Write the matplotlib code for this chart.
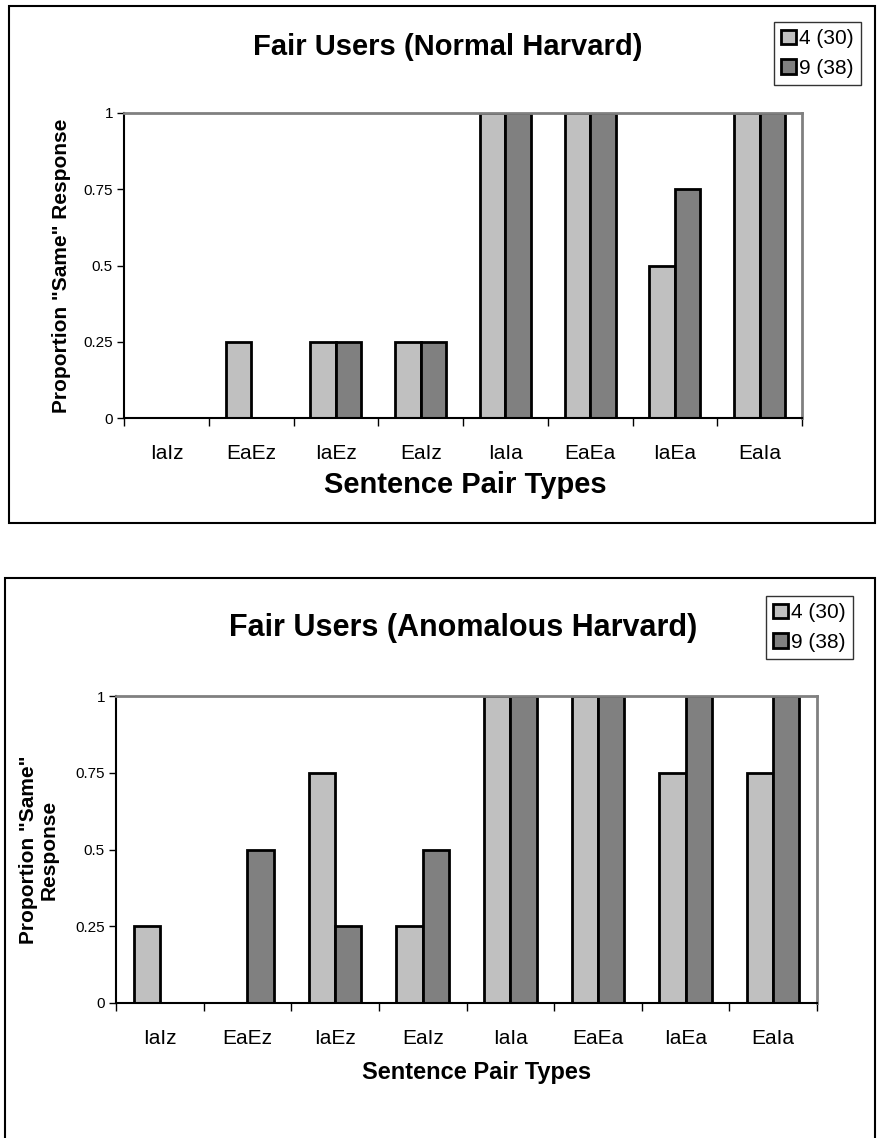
import numpy as np
import matplotlib
matplotlib.use("Agg")
import matplotlib.pyplot as plt
from matplotlib.patches import Rectangle

plt.rcParams['font.family'] = ['Liberation Sans', 'DejaVu Sans']

pair_types = ["IaIz", "EaEz", "IaEz", "EaIz", "IaIa", "EaEa", "IaEa", "EaIa"]
series_names = ["4 (30)", "9 (38)"]
yticks = [0, 0.25, 0.5, 0.75, 1]
ytick_labels = ["0", "0.25", "0.5", "0.75", "1"]

normal_4 = [0, 0.25, 0.25, 0.25, 1, 1, 0.5, 1]
normal_9 = [0, 0, 0.25, 0.25, 1, 1, 0.75, 1]
anomalous_4 = [0.25, 0, 0.75, 0.25, 1, 1, 0.75, 0.75]
anomalous_9 = [0, 0.5, 0.25, 0.5, 1, 1, 1, 1]

LIGHT = "#c0c0c0"
DARK = "#808080"

W, H = 877, 1138
fig = plt.figure(figsize=(W / 100, H / 100), dpi=100)


def px_rect(l, t, r, b):
    # pixel box -> figure fraction [left, bottom, width, height]
    return [l / W, 1 - b / H, (r - l) / W, (b - t) / H]


def draw_panel(box, vals4, vals9, title, title_xy, title_size,
               xlabel, xlabel_xy, xlabel_size, ylabel, ylabel_x, ylabel_size,
               legend_box):
    ax = fig.add_axes(px_rect(*box))
    x = np.arange(len(pair_types))
    w = 0.3
    b1 = ax.bar(x - w / 2, vals4, w, color=LIGHT, edgecolor="black", linewidth=2)
    b2 = ax.bar(x + w / 2, vals9, w, color=DARK, edgecolor="black", linewidth=2)
    ax.set_xlim(-0.5, len(pair_types) - 0.5)
    ax.set_ylim(0, 1)

    ax.set_xticks(np.arange(len(pair_types) + 1) - 0.5)
    ax.set_xticklabels([])
    ax.set_xticks(x, minor=True)
    ax.set_xticklabels(pair_types, minor=True, fontsize=15)
    ax.tick_params(axis="x", which="major", direction="out", length=6, width=1)
    ax.tick_params(axis="x", which="minor", length=0, pad=19)
    ax.set_yticks(yticks)
    ax.set_yticklabels(ytick_labels, fontsize=11)
    ax.tick_params(axis="y", direction="out", length=5, width=1, pad=3)

    for s in ("top", "right"):
        ax.spines[s].set_color("#808080")
        ax.spines[s].set_linewidth(2)
    for s in ("left", "bottom"):
        ax.spines[s].set_color("black")
        ax.spines[s].set_linewidth(1.5)

    fig.text(title_xy[0] / W, 1 - title_xy[1] / H, title, ha="center",
             va="center", fontsize=title_size, fontweight="bold")
    fig.text(xlabel_xy[0] / W, 1 - xlabel_xy[1] / H, xlabel, ha="center",
             va="center", fontsize=xlabel_size, fontweight="bold")
    yc = (box[1] + box[3]) / 2
    fig.text(ylabel_x / W, 1 - yc / H, ylabel, ha="center", va="center",
             rotation=90, fontsize=ylabel_size, fontweight="bold",
             multialignment="center", linespacing=1.1)

    l, t, r, b = legend_box
    fig.legend([b1, b2], series_names, loc="upper left",
               bbox_to_anchor=(l / W, 1 - t / H), fontsize=15,
               frameon=True, fancybox=False, edgecolor="black",
               handlelength=0.7, handleheight=0.7, handletextpad=0.15,
               borderpad=0.35, labelspacing=0.5, borderaxespad=0)
    return ax


draw_panel((124, 113, 802, 418), normal_4, normal_9,
           "Fair Users (Normal Harvard)", (448, 47), 21,
           "Sentence Pair Types", (465, 485), 21,
           'Proportion "Same" Response', 62, 15,
           (774, 22, 866, 89))

draw_panel((116, 696, 817, 1003), anomalous_4, anomalous_9,
           "Fair Users (Anomalous Harvard)", (463, 628), 22,
           "Sentence Pair Types", (477, 1073), 17,
           'Proportion "Same"\nResponse', 39, 15,
           (766, 596, 858, 664))

# outer chart frames
fig.patches.append(Rectangle((9 / W, 1 - 523 / H), 866 / W, 517 / H,
                             transform=fig.transFigure, fill=False,
                             edgecolor="black", linewidth=1.5))
fig.patches.append(Rectangle((5 / W, -0.01), 870 / W, (1138 - 578) / H + 0.01,
                             transform=fig.transFigure, fill=False,
                             edgecolor="black", linewidth=1.5))

fig.savefig("out.png", dpi=100, facecolor="white")
